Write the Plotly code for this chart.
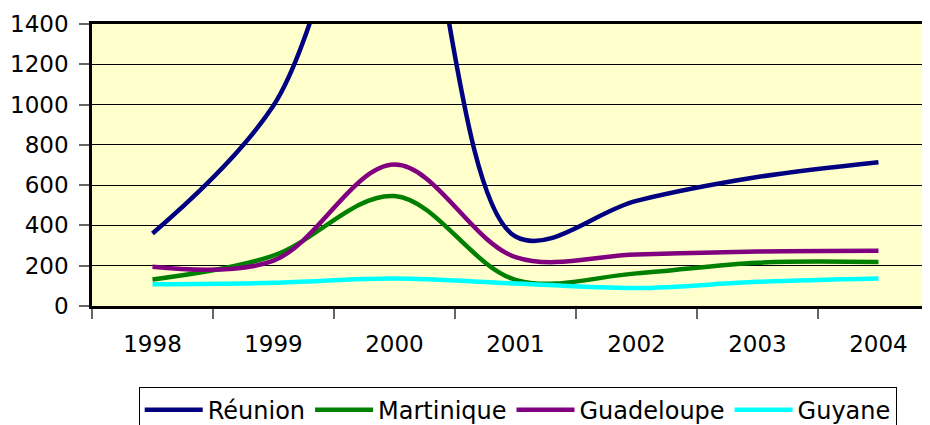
import plotly.graph_objects as go

years = ["1998", "1999", "2000", "2001", "2002", "2003", "2004"]
reunion = [360, 995, 2400, 345, 522, 640, 714]
martinique = [132, 250, 546, 130, 162, 215, 218]
guadeloupe = [195, 225, 702, 243, 256, 270, 274]
guyane = [108, 115, 136, 112, 89, 120, 137]

series_names = ["Réunion", "Martinique", "Guadeloupe", "Guyane"]
series_values = [reunion, martinique, guadeloupe, guyane]
series_colors = ["#000080", "#008000", "#800080", "#00FFFF"]

FONT = "DejaVu Sans"

fig = go.Figure()
for name, vals, col in zip(series_names, series_values, series_colors):
    fig.add_trace(go.Scatter(
        x=years, y=vals, name=name, mode="lines",
        line=dict(color=col, width=4.5, shape="spline", smoothing=1),
    ))

fig.update_layout(
    width=922, height=417,
    margin=dict(l=84, r=0, t=16, b=119, autoexpand=False),
    paper_bgcolor="white",
    plot_bgcolor="#FFFFCC",
    font=dict(family=FONT, size=23, color="black"),
    showlegend=True,
    legend=dict(
        orientation="h", x=0.508, xanchor="center", y=-0.286, yanchor="top",
        bgcolor="white", bordercolor="#000000", borderwidth=1,
        font=dict(family=FONT, size=24, color="black"),
        itemwidth=58, tracegroupgap=0,
    ),
    xaxis=dict(
        type="category", categoryorder="array", categoryarray=years,
        range=[-0.5, 6.426], tickson="boundaries", automargin=False,
        ticks="outside", ticklen=10, tickwidth=1.5, tickcolor="#666",
        showline=True, linecolor="black", linewidth=2.5, mirror=True,
        showgrid=False, zeroline=False, ticklabelstandoff=16,
        tickfont=dict(family=FONT, size=23, color="black"),
    ),
    yaxis=dict(
        range=[0, 1400], dtick=200, tick0=0, automargin=False,
        ticks="outside", ticklen=10, tickwidth=1.5, tickcolor="#666",
        showline=True, linecolor="black", linewidth=2.5,
        showgrid=True, gridcolor="black", gridwidth=1,
        zeroline=False, ticklabelstandoff=6,
        tickfont=dict(family=FONT, size=23, color="black"),
    ),
)

fig.write_html("out.html")
